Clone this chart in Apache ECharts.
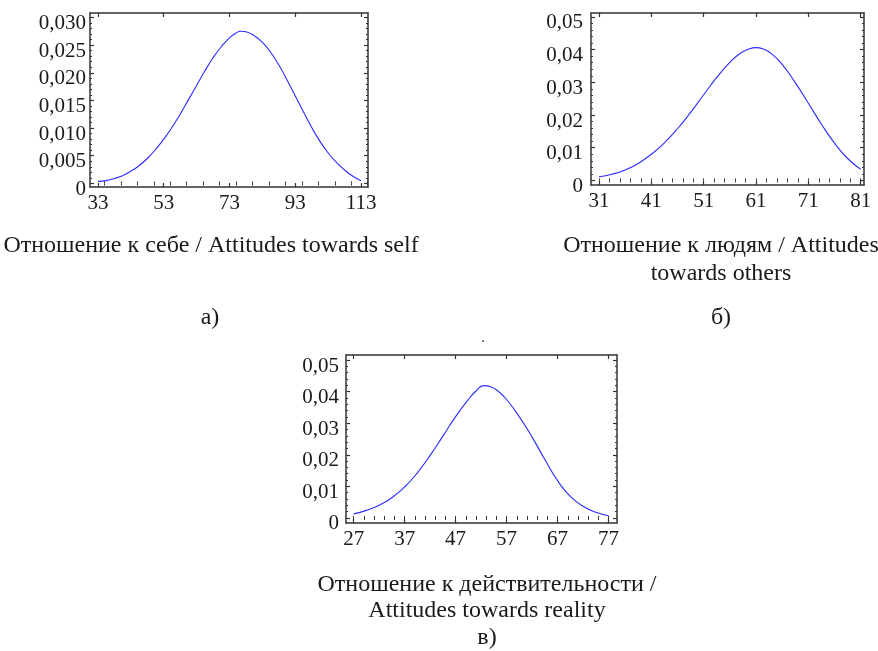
<!DOCTYPE html>
<html>
<head>
<meta charset="utf-8">
<script src="https://cdn.jsdelivr.net/npm/echarts@6/dist/echarts.min.js"></script>
<style>html,body{margin:0;padding:0;background:#fff;}#c{width:878px;height:651px;}</style>
</head>
<body>
<div id="c"></div>
<script>
// ---- Panel а) Attitudes towards self
var xA = [33, 35.5, 38, 40.5, 43, 45.5, 48, 50.5, 53, 55.5, 58, 60.5, 63, 65.5, 68, 70.5, 73, 75, 76.5, 78, 80, 83, 85.5, 88, 90.5, 93, 95.5, 98, 100.5, 103, 105.5, 108, 110.5, 113];
var yA = [0.00036, 0.0005, 0.0009, 0.0014, 0.0022, 0.0032, 0.0045, 0.0061, 0.0080, 0.0101, 0.0125, 0.0151, 0.0177, 0.0203, 0.0227, 0.0247, 0.0263, 0.0272, 0.0275, 0.0274, 0.0269, 0.0255, 0.0237, 0.0214, 0.0187, 0.0158, 0.0129, 0.0101, 0.0076, 0.0055, 0.0038, 0.0024, 0.0013, 0.0005];
var xTicksA = [33, 53, 73, 93, 113];
var xLabelsA = ['33', '53', '73', '93', '113'];
var yTicksA = [0, 0.005, 0.010, 0.015, 0.020, 0.025, 0.030];
var yLabelsA = ['0', '0,005', '0,010', '0,015', '0,020', '0,025', '0,030'];

// ---- Panel б) Attitudes towards others
var xB = [31, 33.5, 36, 38.5, 41, 43.5, 46, 48.5, 51, 53.5, 56, 58, 59.5, 61, 62.5, 64, 66, 68.5, 71, 73.5, 76, 78.5, 81];
var yB = [0.0011, 0.0019, 0.0032, 0.0052, 0.0080, 0.0115, 0.0158, 0.0208, 0.0262, 0.0315, 0.0361, 0.0389, 0.0401, 0.0406, 0.0401, 0.0387, 0.0355, 0.0299, 0.0236, 0.0172, 0.0114, 0.0067, 0.0034];
var xTicksB = [31, 41, 51, 61, 71, 81];
var xLabelsB = ['31', '41', '51', '61', '71', '81'];
var yTicksB = [0, 0.01, 0.02, 0.03, 0.04, 0.05];
var yLabelsB = ['0', '0,01', '0,02', '0,03', '0,04', '0,05'];

// ---- Panel в) Attitudes towards reality
var xC = [27, 29.5, 32, 34.5, 37, 39.5, 42, 44.5, 47, 49.5, 51, 52.5, 54, 55.5, 57, 59.5, 62, 64.5, 67, 69.5, 72, 74.5, 77];
var yC = [0.0013, 0.0024, 0.0040, 0.0064, 0.0098, 0.0143, 0.0198, 0.0259, 0.0321, 0.0375, 0.0402, 0.0419, 0.0415, 0.0399, 0.0375, 0.0320, 0.0256, 0.0185, 0.0118, 0.0068, 0.0037, 0.0018, 0.0007];
var xTicksC = [27, 37, 47, 57, 67, 77];
var xLabelsC = ['27', '37', '47', '57', '67', '77'];
var yTicksC = [0, 0.01, 0.02, 0.03, 0.04, 0.05];
var yLabelsC = ['0', '0,01', '0,02', '0,03', '0,04', '0,05'];

var FONT = '"Liberation Serif", "Times New Roman", serif';
var TXT = '#1a1a1a';
var AX = '#333333';
var TICK_FS = 21;
var CAP_FS = 24;

function steps(from, to, step) {
  var out = [];
  var n = Math.round((to - from) / step);
  for (var i = 0; i <= n; i++) out.push(+(from + i * step).toFixed(6));
  return out;
}

var panels = [
  { grid: {left: 90, top: 13, width: 278, height: 174},
    xr: [30.6, 115.1], yr: [-0.00065, 0.0308],
    xt: xTicksA, xl: xLabelsA, yt: yTicksA, yl: yLabelsA,
    xm: steps(30, 115, 5), ym: steps(0, 0.030, 0.001),
    ylm: 4, x: xA, y: yA },
  { grid: {left: 591, top: 13, width: 273, height: 172},
    xr: [29.47, 81.63], yr: [-0.0014, 0.0512],
    xt: xTicksB, xl: xLabelsB, yt: yTicksB, yl: yLabelsB,
    xm: steps(31, 81, 2), ym: steps(0, 0.05, 0.002),
    ylm: 8, x: xB, y: yB },
  { grid: {left: 346, top: 355, width: 271, height: 168},
    xr: [25.5, 78.65], yr: [-0.0016, 0.0516],
    xt: xTicksC, xl: xLabelsC, yt: yTicksC, yl: yLabelsC,
    xm: steps(27, 77, 2), ym: steps(0, 0.05, 0.002),
    ylm: 7, x: xC, y: yC }
];

var grids = [], xAxes = [], yAxes = [], series = [];
panels.forEach(function (p, gi) {
  grids.push(p.grid);
  var baseX = xAxes.length, baseY = yAxes.length;
  ['bottom', 'top'].forEach(function (pos) {
    xAxes.push({
      type: 'value', gridIndex: gi, position: pos, min: p.xr[0], max: p.xr[1],
      axisLine: {show: true, onZero: false, lineStyle: {color: AX, width: 1.5}},
      axisTick: {show: true, inside: true, length: 4, customValues: p.xt, lineStyle: {color: AX, width: 1.2}},
      axisLabel: pos === 'bottom' ? {
        show: true, customValues: p.xt, margin: 6, color: TXT, fontFamily: FONT, fontSize: TICK_FS,
        formatter: function (v) { var i = p.xt.indexOf(v); return i >= 0 ? p.xl[i] : ''; }
      } : {show: false},
      splitLine: {show: false}
    });
    xAxes.push({
      type: 'value', gridIndex: gi, position: pos, min: p.xr[0], max: p.xr[1],
      axisLine: {show: false},
      axisTick: {show: true, inside: true, length: 2, customValues: p.xm, lineStyle: {color: AX, width: 1}},
      axisLabel: {show: false}, splitLine: {show: false}
    });
  });
  ['left', 'right'].forEach(function (pos) {
    yAxes.push({
      type: 'value', gridIndex: gi, position: pos, min: p.yr[0], max: p.yr[1],
      axisLine: {show: true, onZero: false, lineStyle: {color: AX, width: 1.5}},
      axisTick: {show: true, inside: true, length: 4, customValues: p.yt, lineStyle: {color: AX, width: 1.2}},
      axisLabel: pos === 'left' ? {
        show: true, customValues: p.yt, margin: p.ylm, color: TXT, fontFamily: FONT, fontSize: TICK_FS,
        verticalAlign: 'top', lineHeight: 12,
        formatter: function (v) {
          for (var i = 0; i < p.yt.length; i++) if (Math.abs(p.yt[i] - v) < 1e-9) return p.yl[i];
          return '';
        }
      } : {show: false},
      splitLine: {show: false}
    });
    yAxes.push({
      type: 'value', gridIndex: gi, position: pos, min: p.yr[0], max: p.yr[1],
      axisLine: {show: false},
      axisTick: {show: true, inside: true, length: 2, customValues: p.ym, lineStyle: {color: AX, width: 1}},
      axisLabel: {show: false}, splitLine: {show: false}
    });
  });
  series.push({
    type: 'line', xAxisIndex: baseX, yAxisIndex: baseY, smooth: true,
    symbol: 'none', lineStyle: {color: '#2b2bff', width: 1.1},
    data: p.x.map(function (v, i) { return [v, p.y[i]]; }),
    animation: false
  });
});

function capC(text, cx, cy) {
  return {type: 'text', x: cx, y: cy, style: {text: text, align: 'center', verticalAlign: 'middle', fill: TXT, fontFamily: FONT, fontSize: CAP_FS}};
}

var chart = echarts.init(document.getElementById('c'), null, {renderer: 'canvas'});
chart.setOption({
  animation: false,
  backgroundColor: '#ffffff',
  grid: grids, xAxis: xAxes, yAxis: yAxes, series: series,
  graphic: [
    capC('Отношение к себе / Attitudes towards self', 211, 246),
    capC('а)', 210, 318),
    capC('Отношение к людям / Attitudes', 721, 246),
    capC('towards others', 721, 274),
    capC('б)', 721, 318),
    {type: 'text', x: 483, y: 338, style: {text: '.', align: 'center', verticalAlign: 'middle', fill: TXT, fontFamily: FONT, fontSize: 14}},
    capC('Отношение к действительности /', 487, 585),
    capC('Attitudes towards reality', 487, 611),
    capC('в)', 487, 638)
  ]
});
</script>
</body>
</html>
